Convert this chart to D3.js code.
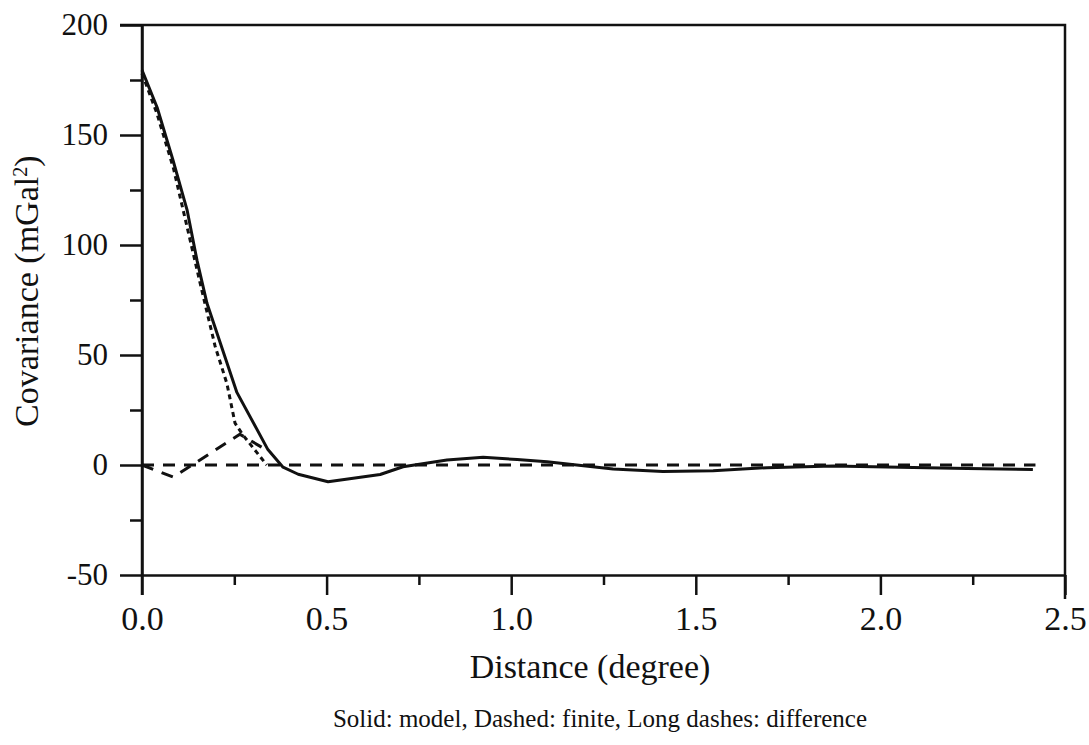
<!DOCTYPE html>
<html>
<head>
<meta charset="utf-8">
<script src="https://cdn.jsdelivr.net/npm/d3@7"></script>
<style>
  body { margin: 0; background: #fff; }
  text { font-family: "Liberation Serif", "Times New Roman", serif; fill: #111; }
</style>
</head>
<body>
<div id="svg-container"></div>
<script>
// model curve (solid)
var modelDist = [0, 0.041, 0.084, 0.122, 0.149, 0.176, 0.257, 0.341, 0.382, 0.423, 0.504, 0.645, 0.707, 0.826, 0.924, 1.016, 1.097, 1.276, 1.411, 1.547, 1.693, 1.872, 2.053, 2.235, 2.413];
var modelVals = [179.5, 162.5, 138.5, 116, 93, 73.5, 33, 7, -1, -4.2, -7.6, -4.3, -0.8, 2.3, 3.5, 2.5, 1.5, -1.8, -3, -2.6, -1.2, -0.5, -1, -1.6, -2];

// finite curve (short dashes)
var finiteDist = [0, 0.04, 0.085, 0.157, 0.198, 0.23, 0.252, 0.274, 0.338];
var finiteVals = [178, 160, 135, 83, 54, 37, 19, 13.5, 0];

// difference curve (long dashes)
var diffDist = [0, 0.085, 0.265, 0.325];
var diffVals = [0, -5.5, 14, 8];

// zero reference (long dashes)
var zeroDist = [0, 2.42];
var zeroVals = [0, 0];

var xTicks = [0, 0.5, 1.0, 1.5, 2.0, 2.5];
var xMinor = [0.25, 0.75, 1.25, 1.75, 2.25];
var yTicks = [-50, 0, 50, 100, 150, 200];
var yMinor = [-25, 25, 75, 125, 175];

var width = 1089, height = 745;
var margin = {left: 142, right: 1065, top: 25, bottom: 575};

var svg = d3.select("#svg-container")
    .append("svg")
    .attr("width", width)
    .attr("height", height);

var x = d3.scaleLinear().domain([0, 2.5]).range([margin.left, margin.right]);
var y = d3.scaleLinear().domain([-50, 200]).range([margin.bottom, margin.top]);

var ink = "#111";

// frame: top and right border
svg.append("path")
    .attr("d", "M" + (margin.left - 22) + "," + margin.top + "H" + margin.right + "V" + (margin.bottom + 24))
    .attr("fill", "none")
    .attr("stroke", ink)
    .attr("stroke-width", 2.5);

// y axis
var yAxis = svg.append("g")
    .attr("transform", "translate(" + margin.left + ",0)")
    .call(d3.axisLeft(y).tickValues(yTicks).tickSize(22).tickSizeOuter(0)
        .tickFormat(function(d) { return d < 0 ? "-" + Math.abs(d) : String(d); }));
svg.append("g")
    .attr("transform", "translate(" + margin.left + ",0)")
    .call(d3.axisLeft(y).tickValues(yMinor).tickSize(12).tickSizeOuter(0).tickFormat(""))
    .select(".domain").remove();

// x axis
var xAxis = svg.append("g")
    .attr("transform", "translate(0," + margin.bottom + ")")
    .call(d3.axisBottom(x).tickValues(xTicks).tickSize(20).tickSizeOuter(0).tickFormat(d3.format(".1f")));
svg.append("g")
    .attr("transform", "translate(0," + margin.bottom + ")")
    .call(d3.axisBottom(x).tickValues(xMinor).tickSize(10).tickSizeOuter(0).tickFormat(""))
    .select(".domain").remove();

// y axis line runs down past the x axis like the original
svg.append("line")
    .attr("x1", margin.left).attr("x2", margin.left)
    .attr("y1", margin.top).attr("y2", margin.bottom + 20)
    .attr("stroke", ink).attr("stroke-width", 2.5);

svg.selectAll(".domain, .tick line")
    .attr("stroke", ink)
    .attr("stroke-width", 2.5);

yAxis.selectAll(".tick text")
    .attr("x", -34)
    .attr("font-size", 31)
    .attr("font-family", "Liberation Serif, serif");
xAxis.selectAll(".tick text")
    .attr("y", 55)
    .attr("dy", 0)
    .attr("font-size", 34)
    .attr("font-family", "Liberation Serif, serif");

// lines
var line = d3.line()
    .x(function(d) { return x(d[0]); })
    .y(function(d) { return y(d[1]); });

function draw(dist, vals, dash) {
    svg.append("path")
        .datum(d3.zip(dist, vals))
        .attr("d", line)
        .attr("fill", "none")
        .attr("stroke", ink)
        .attr("stroke-width", 3)
        .attr("stroke-linejoin", "round")
        .attr("stroke-dasharray", dash);
}
draw(zeroDist, zeroVals, "12,9");
draw(diffDist, diffVals, "12,9");
draw(finiteDist, finiteVals, "5,4");
draw(modelDist, modelVals, null);

// labels
svg.append("text")
    .attr("x", 590)
    .attr("y", 678)
    .attr("text-anchor", "middle")
    .attr("font-size", 34)
    .text("Distance (degree)");

var yl = svg.append("text")
    .attr("transform", "translate(38,427) rotate(-90)")
    .attr("text-anchor", "start")
    .attr("font-size", 34);
yl.append("tspan").text("Covariance (mGal");
yl.append("tspan").attr("baseline-shift", "super").attr("font-size", 20).text("2");
yl.append("tspan").text(")");

svg.append("text")
    .attr("x", 600)
    .attr("y", 727)
    .attr("text-anchor", "middle")
    .attr("font-size", 25)
    .text("Solid: model, Dashed: finite, Long dashes: difference");
</script>
</body>
</html>
